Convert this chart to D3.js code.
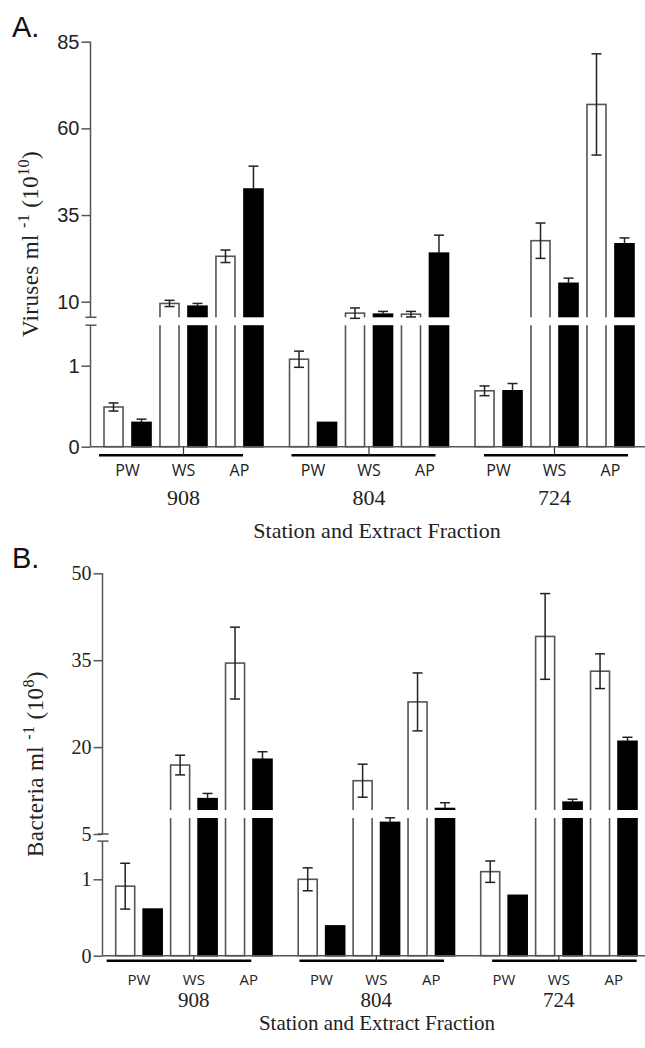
<!DOCTYPE html>
<html>
<head>
<meta charset="utf-8">
<script src="https://cdn.jsdelivr.net/npm/d3@7"></script>
<style>
  body { margin: 0; background: #fff; }
  svg { display: block; }
</style>
</head>
<body>
<div id="chart"></div>
<script>
// stations and extract fractions
var stations = ["908", "804", "724"];
var fractions = ["PW", "WS", "AP"];

// panel A, viruses ml-1 (10^10); order 908 PW,WS,AP, 804 ..., 724 ...
var virusOpen      = [0.49, 9.5, 23.1, 1.08, 6.7, 6.4, 0.69, 27.6, 66.9];
var virusOpenErr   = [0.05, 0.9, 1.8, 0.10, 1.5, 0.8, 0.06, 5.1, 14.6];
var virusFilled    = [0.30, 8.7, 42.5, 0.30, 6.4, 24.0, 0.69, 15.3, 26.7];
var virusFilledErr = [0.04, 0.8, 6.6, 0, 0.8, 5.2, 0.09, 1.5, 1.7];
var virusTicksUpper = [10, 35, 60, 85];
var virusTicksLower = [0, 1];

// panel B, bacteria ml-1 (10^8)
var bactOpen      = [0.91, 16.9, 34.5, 1.00, 14.2, 27.8, 1.10, 39.1, 33.1];
var bactOpenErr   = [0.30, 1.7, 6.2, 0.15, 2.85, 5.0, 0.14, 7.4, 3.0];
var bactFilled    = [0.61, 11.1, 17.9, 0.39, 7.0, 9.4, 0.79, 10.5, 21.0];
var bactFilledErr = [0, 0.9, 1.3, 0, 0.8, 1.0, 0, 0.5, 0.7];
var bactTicksUpper = [5, 20, 35, 50];
var bactTicksLower = [0, 1];

var width = 645, height = 1048;
var svg = d3.select("#chart").append("svg")
    .attr("width", width)
    .attr("height", height);

var serif = "'Liberation Serif', 'Times New Roman', serif";
var sans = "'Liberation Sans', Arial, sans-serif";

function drawPanel(p) {
  var g = svg.append("g");

  var upper = d3.scaleLinear().domain([p.upperTicks[0], p.upperTicks[p.upperTicks.length - 1]]).range(p.upperPx);
  var lower = d3.scaleLinear().domain([0, 1]).range(p.lowerPx);
  var y = function(v) { return v > (p.lowerMax + p.upperMin) / 2 ? upper(v) : lower(v); };
  var base = lower(0);

  var xGroup = d3.scaleBand().domain(stations).range(p.groupRange).paddingInner(p.groupPad).paddingOuter(0);
  var xBar = d3.scaleBand().domain(d3.range(6)).range([0, xGroup.bandwidth()]).paddingInner(p.barPad).paddingOuter(0);
  var xBracket = d3.scaleBand().domain(stations).range(p.bracketRange).paddingInner(p.bracketPad).paddingOuter(0);

  var rows = [];
  stations.forEach(function(s, i) {
    fractions.forEach(function(f, j) {
      rows.push({ station: s, slot: j * 2, filled: false, v: p.open[i * 3 + j], e: p.openErr[i * 3 + j] });
      rows.push({ station: s, slot: j * 2 + 1, filled: true, v: p.filled[i * 3 + j], e: p.filledErr[i * 3 + j] });
    });
  });
  rows.forEach(function(d) { d.x = xGroup(d.station) + xBar(d.slot); });

  // bars
  g.selectAll("rect.bar").data(rows).enter().append("rect")
      .attr("class", "bar")
      .attr("x", function(d) { return d.x; })
      .attr("y", function(d) { return y(d.v); })
      .attr("width", xBar.bandwidth())
      .attr("height", function(d) { return base - y(d.v); })
      .attr("fill", function(d) { return d.filled ? "#000" : "#fff"; })
      .attr("stroke", function(d) { return d.filled ? "#000" : "#555"; })
      .attr("stroke-width", 1.6);

  // break gap across the tall bars
  var gapTop = p.gapPx[0], gapBot = p.gapPx[1];
  g.selectAll("rect.gap").data(rows.filter(function(d) { return y(d.v) < gapTop; })).enter().append("rect")
      .attr("x", function(d) { return d.x - 2; })
      .attr("y", gapTop)
      .attr("width", xBar.bandwidth() + 4)
      .attr("height", gapBot - gapTop)
      .attr("fill", "#fff");

  // error bars
  var cx = function(d) { return d.x + xBar.bandwidth() / 2; };
  var errRows = rows.filter(function(d) { return d.e > 0; });
  g.selectAll("line.err").data(errRows).enter().append("line")
      .attr("x1", cx).attr("x2", cx)
      .attr("y1", function(d) { return d.filled ? y(d.v) : y(d.v - d.e); })
      .attr("y2", function(d) { return y(d.v + d.e); })
      .attr("stroke", "#222").attr("stroke-width", 1.5);
  g.selectAll("line.capTop").data(errRows).enter().append("line")
      .attr("x1", function(d) { return cx(d) - 5; }).attr("x2", function(d) { return cx(d) + 5; })
      .attr("y1", function(d) { return y(d.v + d.e); }).attr("y2", function(d) { return y(d.v + d.e); })
      .attr("stroke", "#222").attr("stroke-width", 1.5);
  g.selectAll("line.capBot").data(errRows.filter(function(d) { return !d.filled; })).enter().append("line")
      .attr("x1", function(d) { return cx(d) - 5; }).attr("x2", function(d) { return cx(d) + 5; })
      .attr("y1", function(d) { return y(d.v - d.e); }).attr("y2", function(d) { return y(d.v - d.e); })
      .attr("stroke", "#222").attr("stroke-width", 1.5);

  // y axis, two segments
  var ax = p.axisX;
  [upper, lower].forEach(function(sc, k) {
    var a = g.append("g")
        .attr("transform", "translate(" + ax + ",0)")
        .call(d3.axisLeft(sc).tickValues(k === 0 ? p.upperTicks : p.lowerTicks)
          .tickFormat(d3.format("d")).tickSize(9).tickPadding(2));
    a.select(".domain").remove();
    a.selectAll("line").attr("stroke", "#555").attr("stroke-width", 1.5);
    a.selectAll("text").attr("font-family", p.tickFont).attr("font-size", 20).attr("fill", "#222");
  });
  var upTop = upper(p.upperTicks[p.upperTicks.length - 1]);
  var upBot = upper(p.upperMin), lowTop = lower(p.lowerMax);
  g.append("line").attr("x1", ax).attr("x2", ax).attr("y1", upTop).attr("y2", upBot)
      .attr("stroke", "#555").attr("stroke-width", 1.5);
  g.append("line").attr("x1", ax).attr("x2", ax).attr("y1", lowTop).attr("y2", base)
      .attr("stroke", "#555").attr("stroke-width", 1.5);
  [upBot, lowTop].forEach(function(yy) {
    g.append("line").attr("x1", ax - 5).attr("x2", ax + 6).attr("y1", yy).attr("y2", yy)
        .attr("stroke", "#555").attr("stroke-width", 1.5);
  });

  // x axis baseline
  g.append("line").attr("x1", ax).attr("x2", width).attr("y1", base).attr("y2", base)
      .attr("stroke", "#555").attr("stroke-width", 1.5);

  // group brackets
  stations.forEach(function(s) {
    var bx = xBracket(s);
    var mid = xGroup(s) + xGroup.bandwidth() / 2;
    g.append("line").attr("x1", bx).attr("x2", bx + xBracket.bandwidth())
        .attr("y1", base + p.bracketDy).attr("y2", base + p.bracketDy)
        .attr("stroke", "#000").attr("stroke-width", 2.6);
    g.append("line").attr("x1", mid).attr("x2", mid).attr("y1", base).attr("y2", base + p.bracketDy)
        .attr("stroke", "#333").attr("stroke-width", 1.2);
    fractions.forEach(function(f, j) {
      var fx = xGroup(s) + (xBar(j * 2) + xBar(j * 2 + 1) + xBar.bandwidth()) / 2;
      g.append("text").attr("x", fx).attr("y", base + p.fracDy)
          .attr("text-anchor", "middle").attr("font-family", "'Open Sans', sans-serif")
          .attr("font-size", p.fracSize).attr("fill", "#222").text(f);
    });
    g.append("text").attr("x", mid).attr("y", base + p.stationDy)
        .attr("text-anchor", "middle").attr("font-family", serif)
        .attr("font-size", p.stationSize).attr("fill", "#222").text(s);
  });

  g.append("text").attr("x", p.titleX).attr("y", base + p.titleDy)
      .attr("text-anchor", "middle").attr("font-family", serif)
      .attr("font-size", p.titleSize).attr("fill", "#222").text("Station and Extract Fraction");

  // y label with superscripts
  var lab = g.append("text")
      .attr("transform", "translate(" + p.labelX + "," + p.labelY + ") rotate(-90)")
      .attr("text-anchor", "middle").attr("font-family", serif)
      .attr("font-size", 23).attr("letter-spacing", 0.4).attr("fill", "#222");
  lab.append("tspan").text(p.labelMain + " ");
  lab.append("tspan").attr("dy", -9).attr("font-size", 16).text("-1");
  lab.append("tspan").attr("dy", 9).text(" (10");
  lab.append("tspan").attr("dy", -9).attr("font-size", 16).text(p.labelExp);
  lab.append("tspan").attr("dy", 9).text(")");

  g.append("text").attr("x", 12).attr("y", p.letterY)
      .attr("font-family", sans).attr("font-size", 29).attr("fill", "#111").text(p.letter);
}

drawPanel({
  letter: "A.", letterY: 37,
  open: virusOpen, openErr: virusOpenErr, filled: virusFilled, filledErr: virusFilledErr,
  upperTicks: virusTicksUpper, lowerTicks: virusTicksLower,
  upperPx: [301.7, 41.7], lowerPx: [446.7, 365.7],
  upperMin: 5.5, lowerMax: 1.5,
  gapPx: [317.3, 325.2],
  axisX: 90.5, tickFont: sans,
  groupRange: [104, 634], groupPad: 0.143, barPad: 0.32,
  bracketRange: [99, 628], bracketPad: 0.252, bracketDy: 8.5,
  fracSize: 16, fracDy: 29.5, stationSize: 22, stationDy: 58.5,
  titleSize: 22, titleDy: 91, titleX: 377,
  labelMain: "Viruses ml", labelExp: "10", labelX: 38, labelY: 244
});

drawPanel({
  letter: "B.", letterY: 568,
  open: bactOpen, openErr: bactOpenErr, filled: bactFilled, filledErr: bactFilledErr,
  upperTicks: bactTicksUpper, lowerTicks: bactTicksLower,
  upperPx: [834, 573.3], lowerPx: [955.7, 879.3],
  upperMin: 5, lowerMax: 1.5,
  gapPx: [810, 818],
  axisX: 102.5, tickFont: serif,
  groupRange: [115.7, 637], groupPad: 0.1436, barPad: 0.308,
  bracketRange: [106.7, 636.7], bracketPad: 0.25, bracketDy: 5,
  fracSize: 15, fracDy: 29, stationSize: 21, stationDy: 51,
  titleSize: 21, titleDy: 74, titleX: 377,
  labelMain: "Bacteria ml", labelExp: "8", labelX: 43, labelY: 764
});
</script>
</body>
</html>
